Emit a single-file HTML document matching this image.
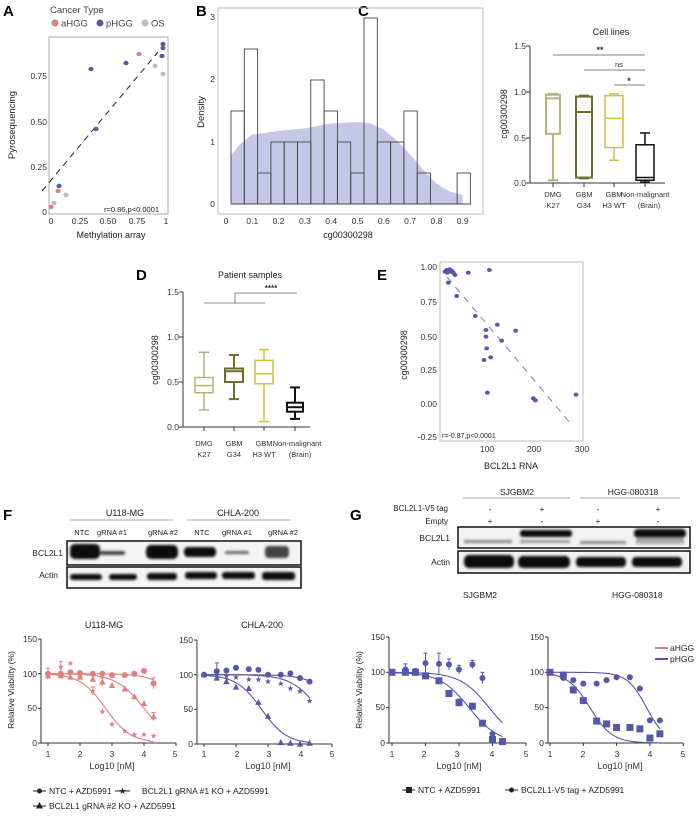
<!DOCTYPE html>
<html><head><meta charset="utf-8"><style>
body{margin:0;background:#fff}
svg{display:block;font-family:"Liberation Sans",sans-serif}
</style></head><body>
<svg id="s" width="700" height="816" viewBox="0 0 700 816" xmlns="http://www.w3.org/2000/svg">
<defs><filter id="bl" x="-20%" y="-50%" width="140%" height="200%"><feGaussianBlur stdDeviation="1.2"/></filter></defs>
<g font-size="9" fill="#222">
<!-- Panel labels -->
<text x="3" y="16" font-size="15" font-weight="bold" fill="#000">A</text>
<text x="196" y="16" font-size="15" font-weight="bold" fill="#000">B</text>
<text x="358" y="16" font-size="15" font-weight="bold" fill="#000">C</text>
<text x="136" y="280" font-size="15" font-weight="bold" fill="#000">D</text>
<text x="377" y="280" font-size="15" font-weight="bold" fill="#000">E</text>
<text x="3" y="520" font-size="15" font-weight="bold" fill="#000">F</text>
<text x="350" y="520" font-size="15" font-weight="bold" fill="#000">G</text>

<!-- A -->
<text x="50" y="13" font-size="9.5" fill="#444">Cancer Type</text>
<circle cx="55" cy="23" r="3.5" fill="#e07f7f"/><text x="61" y="26.5" font-size="9.5" fill="#444">aHGG</text>
<circle cx="100" cy="23" r="3.5" fill="#5558a8"/><text x="106" y="26.5" font-size="9.5" fill="#444">pHGG</text>
<circle cx="145" cy="23" r="3.5" fill="#bdbdbd"/><text x="151" y="26.5" font-size="9.5" fill="#444">OS</text>
<rect x="49" y="37" width="119" height="177" fill="none" stroke="#aaa" stroke-width="1"/>
<g font-size="8.5" text-anchor="end" fill="#333"><text x="47" y="215">0</text><text x="47" y="170">0.25</text><text x="47" y="125">0.50</text><text x="47" y="79">0.75</text></g>
<g font-size="8.5" text-anchor="middle" fill="#333"><text x="51" y="224">0</text><text x="80" y="224">0.25</text><text x="108" y="224">0.50</text><text x="137" y="224">0.75</text><text x="166" y="224">1</text></g>
<text x="111" y="238" font-size="9" text-anchor="middle">Methylation array</text>
<text transform="translate(15,125) rotate(-90)" font-size="9.5" text-anchor="middle">Pyrosequencing</text>
<line x1="42" y1="191" x2="158" y2="52" stroke="#222" stroke-dasharray="6,5"/>
<text x="104" y="212" font-size="7.5">r=0.86,p&lt;0.0001</text>

<!-- B -->
<rect x="218" y="8" width="265" height="206" fill="none" stroke="#bbb"/>
<g font-size="8.5" text-anchor="end" fill="#333"><text x="215" y="207">0</text><text x="215" y="145">1</text><text x="215" y="82">2</text><text x="215" y="20">3</text></g>
<text transform="translate(204,112) rotate(-90)" font-size="9.5" text-anchor="middle">Density</text>
<g id="bx" font-size="8.5" text-anchor="middle" fill="#333"></g>
<text x="348" y="238" font-size="9" text-anchor="middle">cg00300298</text>

<!-- C -->
<text x="611" y="35" font-size="9" text-anchor="middle">Cell lines</text>
<text transform="translate(507,114) rotate(-90)" font-size="9" text-anchor="middle">cg00300298</text>
<g font-size="8.5" text-anchor="end" fill="#333"><text x="526" y="49">1.5</text><text x="526" y="95">1.0</text><text x="526" y="141">0.5</text><text x="526" y="186">0.0</text></g>
<g font-size="7.5" text-anchor="middle" fill="#333">
<text x="553" y="197">DMG</text><text x="553" y="208">K27</text>
<text x="584" y="197">GBM</text><text x="584" y="208">G34</text>
<text x="614" y="197">GBM</text><text x="614" y="208">H3 WT</text>
<text x="645" y="197">Non-malignant</text><text x="649" y="208">(Brain)</text>
<text x="600" y="53" font-size="9" font-weight="bold">**</text>
<text x="619" y="67">ns</text>
<text x="629" y="84" font-size="9" font-weight="bold">*</text>
</g>
<g stroke="#555" stroke-width="0.8"><line x1="553" y1="55" x2="645" y2="55"/><line x1="584" y1="70" x2="645" y2="70"/><line x1="614" y1="85" x2="645" y2="85"/></g>

<!-- D -->
<text x="250" y="278" font-size="9" text-anchor="middle">Patient samples</text>
<text transform="translate(158,360) rotate(-90)" font-size="9" text-anchor="middle">cg00300298</text>
<g font-size="8.5" text-anchor="end" fill="#333"><text x="179" y="295">1.5</text><text x="179" y="340">1.0</text><text x="179" y="385">0.5</text><text x="179" y="430">0.0</text></g>
<g font-size="7.5" text-anchor="middle" fill="#333">
<text x="204" y="446">DMG</text><text x="204" y="457">K27</text>
<text x="234" y="446">GBM</text><text x="234" y="457">G34</text>
<text x="264" y="446">GBM</text><text x="264" y="457">H3 WT</text>
<text x="297" y="446">Non-malignant</text><text x="300" y="457">(Brain)</text>
<text x="271" y="291" font-size="8" font-weight="bold">****</text>
</g>
<g stroke="#666" stroke-width="0.8" fill="none"><polyline points="204,303 265,303"/><polyline points="235,303 235,293 297,293"/></g>

<!-- E -->
<rect x="440" y="262" width="143" height="179" fill="none" stroke="#bbb"/>
<g font-size="8.5" text-anchor="end" fill="#333"><text x="437" y="270">1.00</text><text x="437" y="305">0.75</text><text x="437" y="340">0.50</text><text x="437" y="373">0.25</text><text x="437" y="407">0.00</text><text x="437" y="440">-0.25</text></g>
<g font-size="8.5" text-anchor="middle" fill="#333"><text x="487" y="452">100</text><text x="534" y="452">200</text><text x="582" y="452">300</text></g>
<text x="511" y="469" font-size="9" text-anchor="middle">BCL2L1 RNA</text>
<text transform="translate(407,355) rotate(-90)" font-size="9" text-anchor="middle">cg00300298</text>
<text x="442" y="438" font-size="7">r=-0.87,p&lt;0.0001</text>
<line x1="447" y1="277" x2="572" y2="425" stroke="#7a7db8" stroke-dasharray="7,6"/>

<!-- F blot -->
<text x="125" y="516" font-size="9" text-anchor="middle">U118-MG</text>
<text x="238" y="516" font-size="9" text-anchor="middle">CHLA-200</text>
<g stroke="#888" stroke-width="0.8"><line x1="70" y1="520" x2="173" y2="520"/><line x1="187" y1="520" x2="291" y2="520"/></g>
<g font-size="7.5" text-anchor="middle"><text x="82" y="535">NTC</text><text x="112" y="535">gRNA #1</text><text x="163" y="535">gRNA #2</text><text x="202" y="535">NTC</text><text x="237" y="535">gRNA #1</text><text x="283" y="535">gRNA #2</text></g>
<text x="63" y="556" font-size="8.5" text-anchor="end">BCL2L1</text>
<text x="58" y="578" font-size="8.5" text-anchor="end">Actin</text>
<rect x="67" y="541" width="234" height="24" fill="#f4f4f4" stroke="#111" stroke-width="1.5"/>
<rect x="67" y="567" width="234" height="21" fill="#f4f4f4" stroke="#111" stroke-width="1.5"/>
<g filter="url(#bl)" fill="#111">
<rect x="70" y="544" width="30" height="15" rx="5"/>
<rect x="100" y="551" width="25" height="4" rx="2" fill="#444"/>
<rect x="146" y="545" width="32" height="14" rx="5"/>
<rect x="184" y="547" width="32" height="10" rx="4"/>
<rect x="225" y="551" width="24" height="3" rx="1.5" fill="#666"/>
<rect x="265" y="546" width="24" height="12" rx="4" fill="#444"/>
<rect x="70" y="574" width="32" height="6" rx="3"/><rect x="109" y="574" width="28" height="6" rx="3"/><rect x="147" y="573" width="30" height="7" rx="3"/>
<rect x="185" y="572" width="32" height="7" rx="3"/><rect x="222" y="572" width="33" height="7" rx="3"/><rect x="262" y="572" width="33" height="8" rx="3"/>
</g>

<!-- G blot -->
<text x="517" y="495" font-size="8.5" text-anchor="middle">SJGBM2</text>
<text x="633" y="495" font-size="8.5" text-anchor="middle">HGG-080318</text>
<g stroke="#888" stroke-width="0.8"><line x1="463" y1="498" x2="570" y2="498"/><line x1="580" y1="498" x2="680" y2="498"/></g>
<text x="448" y="511" font-size="8" text-anchor="end">BCL2L1-V5 tag</text>
<text x="448" y="524" font-size="8" text-anchor="end">Empty</text>
<g font-size="8.5" text-anchor="middle"><text x="490" y="512">-</text><text x="542" y="512">+</text><text x="598" y="512">-</text><text x="658" y="512">+</text>
<text x="490" y="524">+</text><text x="542" y="524">-</text><text x="598" y="524">+</text><text x="658" y="524">-</text></g>
<text x="450" y="541" font-size="8.5" text-anchor="end">BCL2L1</text>
<text x="450" y="565" font-size="8.5" text-anchor="end">Actin</text>
<rect x="458" y="527" width="232" height="21" fill="#f2f2f2" stroke="#111" stroke-width="1.5"/>
<rect x="458" y="551" width="232" height="22" fill="#f2f2f2" stroke="#111" stroke-width="1.5"/>
<g filter="url(#bl)">
<rect x="464" y="540" width="48" height="3" fill="#888"/>
<rect x="520" y="530" width="52" height="7" rx="3" fill="#111"/><rect x="520" y="540" width="50" height="3" fill="#999"/>
<rect x="580" y="541" width="46" height="3" fill="#888"/>
<rect x="634" y="529" width="52" height="9" rx="4" fill="#111"/><rect x="636" y="538" width="48" height="6" fill="#aaa"/>
<rect x="464" y="555" width="50" height="13" rx="5" fill="#111"/><rect x="518" y="556" width="52" height="12" rx="5" fill="#111"/>
<rect x="576" y="557" width="50" height="10" rx="4" fill="#111"/><rect x="632" y="557" width="50" height="10" rx="4" fill="#111"/>
</g>
<text x="463" y="598" font-size="8.5">SJGBM2</text>
<text x="612" y="598" font-size="8.5">HGG-080318</text>

<!-- bottom plot labels -->
<text x="104" y="628" font-size="9" text-anchor="middle">U118-MG</text>
<text x="262" y="628" font-size="9" text-anchor="middle">CHLA-200</text>
<text transform="translate(14,690) rotate(-90)" font-size="8.5" text-anchor="middle">Relative Viability (%)</text>
<text transform="translate(362,690) rotate(-90)" font-size="8.5" text-anchor="middle">Relative Viability (%)</text>
<g font-size="8.5" text-anchor="end" fill="#333">
<text x="37" y="642">150</text><text x="37" y="677">100</text><text x="37" y="711">50</text><text x="37" y="746">0</text>
<text x="193" y="643">150</text><text x="193" y="678">100</text><text x="193" y="712">50</text><text x="193" y="747">0</text>
<text x="385" y="640">150</text><text x="385" y="675">100</text><text x="385" y="710">50</text><text x="385" y="746">0</text>
<text x="544" y="640">150</text><text x="544" y="675">100</text><text x="544" y="710">50</text><text x="544" y="746">0</text>
</g>
<g font-size="8.5" text-anchor="middle" fill="#333">
<text x="48" y="757">1</text><text x="80" y="757">2</text><text x="112" y="757">3</text><text x="144" y="757">4</text><text x="175" y="757">5</text>
<text x="204" y="757">1</text><text x="237" y="757">2</text><text x="269" y="757">3</text><text x="301" y="757">4</text><text x="332" y="757">5</text>
<text x="392" y="757">1</text><text x="424" y="757">2</text><text x="457" y="757">3</text><text x="492" y="757">4</text><text x="526" y="757">5</text>
<text x="550" y="757">1</text><text x="583" y="757">2</text><text x="617" y="757">3</text><text x="650" y="757">4</text><text x="683" y="757">5</text>
<text x="112" y="769" font-size="9">Log10 [nM]</text><text x="268" y="769" font-size="9">Log10 [nM]</text>
<text x="459" y="769" font-size="9">Log10 [nM]</text><text x="620" y="769" font-size="9">Log10 [nM]</text>
</g>
<line x1="655" y1="648" x2="668" y2="648" stroke="#e07f7f" stroke-width="2"/><text x="670" y="651" font-size="8.5">aHGG</text>
<line x1="655" y1="659" x2="668" y2="659" stroke="#5558a8" stroke-width="2"/><text x="670" y="662" font-size="8.5">pHGG</text>

<!-- legends -->
<line x1="33" y1="791" x2="46" y2="791" stroke="#222"/><circle cx="39.5" cy="791" r="2.5" fill="#222"/>
<text x="49" y="794" font-size="8.5">NTC + AZD5991</text>
<line x1="115" y1="791" x2="130" y2="791" stroke="#222"/><text x="122.5" y="794" font-size="9" text-anchor="middle">★</text>
<text x="142" y="794" font-size="8.5">BCL2L1 gRNA #1 KO + AZD5991</text>
<line x1="33" y1="806" x2="46" y2="806" stroke="#222"/><polygon points="39.5,802 43,808.5 36,808.5" fill="#222"/>
<text x="49" y="809" font-size="8.5">BCL2L1 gRNA #2 KO + AZD5991</text>
<line x1="402" y1="790" x2="415" y2="790" stroke="#222"/><rect x="406" y="787" width="6" height="6" fill="#222"/>
<text x="418" y="793" font-size="8.5">NTC + AZD5991</text>
<line x1="505" y1="790" x2="518" y2="790" stroke="#222"/><circle cx="511.5" cy="790" r="2.5" fill="#222"/>
<text x="521" y="793" font-size="8.5">BCL2L1-V5 tag + AZD5991</text>
</g>
<g id="geo"></g>
</svg>
<script>
var NS="http://www.w3.org/2000/svg",G=document.getElementById("geo");
function el(t,a){var e=document.createElementNS(NS,t);for(var k in a)e.setAttribute(k,a[k]);G.appendChild(e);return e;}
// B axis ticks
var bx=document.getElementById("bx");
function BX(v){return 226+v*263;}
for(var i=0;i<=9;i++){var t=document.createElementNS(NS,"text");t.setAttribute("x",BX(i/10));t.setAttribute("y",224);t.textContent=i==0?"0":(i/10).toFixed(1);bx.appendChild(t);}
// density
var d="M231,204";var dens=function(v){return 0.8+2.2*v-2.5*v*v+ (v>0.45?-4.5*Math.pow(v-0.45,2)*(1+1.2*(v-0.45)):0);};
var pts=[];for(var v=0.02;v<=0.9;v+=0.01){var y=dens(v);if(v<0.1)y=0.8+ (v-0.02)*4.5;pts.push([BX(v),204-Math.max(0.12,y)*62]);}
// smoother custom
var dv=[[0.02,0.78],[0.05,0.95],[0.1,1.12],[0.2,1.18],[0.3,1.22],[0.4,1.3],[0.5,1.32],[0.55,1.3],[0.6,1.2],[0.65,1.02],[0.7,0.8],[0.75,0.55],[0.8,0.33],[0.85,0.2],[0.9,0.15]];
d="M"+BX(0.02)+",204";dv.forEach(function(p){d+=" L"+BX(p[0])+","+(204-p[1]*62);});d+=" L"+BX(0.9)+",204Z";
el("path",{d:d,fill:"#c5c7e6"});
var hb=[1.5,2.5,0.5,1,1,1,2,1.5,1,0.5,3,1,1,1.5,0.5,0,0,0.5];
hb.forEach(function(h,i){if(h>0)el("rect",{x:231+i*13.3,y:204-h*62,width:13.3,height:h*62,fill:"none",stroke:"#444","stroke-width":0.9});});
el("line",{x1:231,y1:204,x2:471,y2:204,stroke:"#444","stroke-width":0.9});
// A points
[[51,207,"#e07f7f"],[58,191,"#e07f7f"],[139,54,"#e07f7f"],[59,186,"#5558a8"],[91,69,"#5558a8"],[96,129,"#5558a8"],[126,63,"#5558a8"],[163,44,"#5558a8"],[163,48,"#5558a8"],[162,56,"#5558a8"],[54,203,"#bdbdbd"],[66,195,"#bdbdbd"],[155,66,"#bdbdbd"],[163,74,"#bdbdbd"]].forEach(function(p){el("ellipse",{cx:p[0],cy:p[1],rx:2.6,ry:2.2,fill:p[2]});});
// A ticks
// E points
[[135,125],[140,120],[148,118],[155,122],[160,128],[165,135],[150,125],[142,128],[145,158],[205,128],[268,120],[170,198],[226,258],[292,284],[347,302],[258,300],[258,320],[305,332],[260,355],[252,390],[272,382],[262,488],[400,505],[406,511],[528,494]].forEach(function(p){el("ellipse",{cx:400+p[0]/3,cy:230+p[1]/3,rx:2.4,ry:2,fill:"#5558a8"});});
// box plots
function box(X,Yf,w,c,wl,wh,q1,q3,med,sw){el("line",{x1:X,y1:Yf(wl),x2:X,y2:Yf(wh),stroke:c,"stroke-width":sw});
el("line",{x1:X-5,y1:Yf(wl),x2:X+5,y2:Yf(wl),stroke:c,"stroke-width":sw});el("line",{x1:X-5,y1:Yf(wh),x2:X+5,y2:Yf(wh),stroke:c,"stroke-width":sw});
el("rect",{x:X-w/2,y:Yf(q3),width:w,height:Yf(q1)-Yf(q3),fill:"#fff",stroke:c,"stroke-width":sw});
el("line",{x1:X-w/2,y1:Yf(med),x2:X+w/2,y2:Yf(med),stroke:c,"stroke-width":sw});}
var tan="#b8b07a",ol="#6e6d2c",yl="#c8c440";
var YC=function(v){return 183-v*91;};
el("polyline",{points:"530,46 530,183 665,183",fill:"none",stroke:"#333","stroke-width":1});
[46,92,138,183].forEach(function(y){el("line",{x1:526,y1:y,x2:530,y2:y,stroke:"#333"});});
[553,584,614,645].forEach(function(x){el("line",{x1:x,y1:183,x2:x,y2:187,stroke:"#333"});});
box(553,YC,14,tan,0.03,0.98,0.54,0.97,0.93,2);
box(584,YC,16,ol,0.05,0.96,0.06,0.95,0.78,2);
box(614,YC,18,yl,0.25,0.98,0.39,0.96,0.71,1.5);
box(645,YC,18,"#111",0.01,0.55,0.03,0.42,0.06,1.5);
var YD=function(v){return 427-v*90;};
el("polyline",{points:"183,292 183,427 310,427",fill:"none",stroke:"#333","stroke-width":1});
[292,337,382,427].forEach(function(y){el("line",{x1:179,y1:y,x2:183,y2:y,stroke:"#333"});});
[204,234,264,295].forEach(function(x){el("line",{x1:x,y1:427,x2:x,y2:431,stroke:"#333"});});
box(204,YD,18,tan,0.19,0.83,0.38,0.55,0.46,1.5);
box(234,YD,18,ol,0.31,0.80,0.5,0.65,0.62,2);
box(264,YD,18,yl,0.06,0.86,0.48,0.74,0.59,1.5);
box(295,YD,16,"#111",0.09,0.44,0.17,0.27,0.22,2);
// dose response
function panel(X0,dx,Y0,sy,ax,curves){
 el("polyline",{points:ax+","+(Y0-150*sy)+" "+ax+","+Y0+" "+(X0+4*dx)+","+Y0,fill:"none",stroke:"#333"});
 [0,50,100,150].forEach(function(p){el("line",{x1:ax-3,y1:Y0-p*sy,x2:ax,y2:Y0-p*sy,stroke:"#333"});});
 for(var i=0;i<5;i++)el("line",{x1:X0+i*dx,y1:Y0,x2:X0+i*dx,y2:Y0+3,stroke:"#333"});
 var xs=[1,1.4,1.7,2,2.4,2.7,3,3.4,3.7,4,4.3];
 curves.forEach(function(c){var d="";for(var v=1;v<=4.31;v+=0.05){var y=c.b+(100-c.b)/(1+Math.pow(10,(v-c.ic)*c.h));d+=(d?" L":"M")+(X0+(v-1)*dx).toFixed(1)+","+(Y0-y*sy).toFixed(1);}
  el("path",{d:d,fill:"none",stroke:c.col,"stroke-width":1.1});
  c.y.forEach(function(p,i){var x=X0+(xs[i]-1)*dx,y=Y0-p*sy;
   if(c.e&&c.e[i]){el("line",{x1:x,y1:y-c.e[i]*sy,x2:x,y2:y+c.e[i]*sy,stroke:c.col});el("line",{x1:x-2,y1:y-c.e[i]*sy,x2:x+2,y2:y-c.e[i]*sy,stroke:c.col});}
   if(c.m=="c")el("circle",{cx:x,cy:y,r:3,fill:c.col});
   else if(c.m=="s")el("rect",{x:x-3.5,y:y-3.5,width:7,height:7,fill:c.col});
   else if(c.m=="t")el("polygon",{points:x+","+(y-3.5)+" "+(x+3.2)+","+(y+2.5)+" "+(x-3.2)+","+(y+2.5),fill:c.col});
   else{var s="";for(var k=0;k<10;k++){var r=k%2?1.3:3.2,a=-Math.PI/2+k*Math.PI/5;s+=(x+r*Math.cos(a)).toFixed(1)+","+(y+r*Math.sin(a)).toFixed(1)+" ";}el("polygon",{points:s,fill:c.col});}
  });});
}
var R="#e07f7f",B="#5558a8";
panel(48,32,743,0.693,41,[
 {ic:5.3,h:1,b:0,col:R,m:"c",y:[100,100,102,101,100,100,98,98,100,104,86],e:[8,0,0,0,0,0,0,0,0,0,8]},
 {ic:2.8,h:1.1,b:0,col:R,m:"*",y:[100,110,115,95,75,45,27,17,12,12,10],e:[0,8,0,0,6,0,0,0,0,0,0]},
 {ic:4.0,h:1,b:0,col:R,m:"t",y:[97,97,95,95,92,88,83,78,67,57,38],e:[0,0,0,0,0,6,0,0,0,0,6]}]);
panel(204,32,744,0.693,197,[
 {ic:5.3,h:1,b:0,col:B,m:"c",y:[100,105,106,110,108,107,100,100,102,95,90],e:[0,12,0,0,0,0,0,0,0,0,0]},
 {ic:4.6,h:1,b:0,col:B,m:"*",y:[100,100,98,96,93,93,90,87,80,76,62]},
 {ic:2.8,h:1.1,b:0,col:B,m:"t",y:[100,95,90,82,80,60,40,2,1,0,1]}]);
panel(392,33.5,743,0.707,389,[
 {ic:3.3,h:1,b:0,col:B,m:"s",y:[100,100,100,95,88,70,57,52,28,5,2],e:[0,4,4,0,4,4,5,4,0,0,0]},
 {ic:3.9,h:1,b:0,col:B,m:"c",y:[100,104,102,113,112,111,104,111,92,13,3],e:[0,8,0,14,15,8,6,6,8,0,0]}]);
panel(550,33.3,743,0.707,548,[
 {ic:2.2,h:1.3,b:0,col:B,m:"s",y:[100,96,75,60,31,27,22,22,20,7,13]},
 {ic:3.9,h:1.5,b:0,col:B,m:"c",y:[100,92,89,84,84,89,93,93,77,32,32]}]);
</script>
</body></html>
